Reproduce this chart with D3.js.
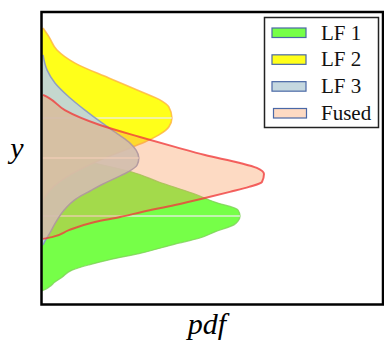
<!DOCTYPE html>
<html>
<head>
<meta charset="utf-8">
<script src="https://cdn.jsdelivr.net/npm/d3@7"></script>
<style>
  html, body { margin: 0; padding: 0; background: #fff; }
  svg { display: block; }
</style>
</head>
<body>
<svg id="chart" width="384" height="342"></svg>
<script>
// Series names, in legend order
const seriesNames = ["LF 1", "LF 2", "LF 3", "Fused"];

// Density outlines for each series: [y, pdf] pairs (top to bottom)
const lf1 = [
  [5.27, 0.003], [5.10, 0.053], [4.86, 0.141], [4.52, 0.264], [4.18, 0.343],
  [3.80, 0.440], [3.49, 0.507], [3.22, 0.575], [3.01, 0.581], [2.84, 0.575],
  [2.71, 0.563], [2.47, 0.507], [2.26, 0.463], [2.05, 0.390], [1.75, 0.293],
  [1.51, 0.196], [1.34, 0.138], [1.16, 0.088], [0.92, 0.059], [0.75, 0.038],
  [0.58, 0.021], [0.48, 0.006], [0.45, 0.000]
];
const lf2 = [
  [9.45, 0.003], [9.14, 0.021], [8.70, 0.044], [8.25, 0.097], [7.74, 0.196],
  [7.26, 0.293], [6.99, 0.346], [6.75, 0.372], [6.37, 0.381], [6.06, 0.372],
  [5.79, 0.343], [5.55, 0.302], [5.41, 0.273], [4.93, 0.170], [4.42, 0.082],
  [3.90, 0.023], [3.56, 0.003]
];
const lf3 = [
  [8.53, 0.003], [8.01, 0.015], [7.57, 0.038], [7.09, 0.079], [6.64, 0.126],
  [6.20, 0.176], [5.79, 0.226], [5.51, 0.258], [5.27, 0.276], [5.00, 0.284],
  [4.76, 0.279], [4.52, 0.252], [4.32, 0.217], [4.11, 0.179], [3.87, 0.141],
  [3.60, 0.100], [3.22, 0.065], [2.81, 0.041], [2.43, 0.023], [2.16, 0.009],
  [2.02, 0.003]
];
const fused = [
  [7.16, 0.003], [7.05, 0.021], [6.64, 0.067], [6.13, 0.170], [5.72, 0.287],
  [5.38, 0.390], [5.10, 0.478], [4.83, 0.581], [4.66, 0.630], [4.45, 0.651],
  [4.18, 0.645], [4.01, 0.607], [3.84, 0.551], [3.63, 0.478], [3.39, 0.390],
  [3.15, 0.293], [2.98, 0.229], [2.81, 0.155], [2.53, 0.079], [2.29, 0.029],
  [2.23, 0.003]
];

// Styles per series
const fills   = ["#76ff48", "#ffff1a", "#bfd4dd", "#f99554"];
const fillOp  = [1, 1, 0.92, 0.35];
const strokes = ["#7fcf5a", "#ffb340", "#8797c6", "#f03c3c"];
const strokeW = [1.2, 1.6, 1.5, 2];
const strokeOp= [0.8, 0.8, 0.9, 0.8];
const swatchFills = ["#76ff48", "#ffff1a", "#c5d8e0", "#fddac3"];
// Which series carry a mode line
const showMode = [true, true, true, false];

const allSeries = [lf1, lf2, lf3, fused];

const svg = d3.select("#chart");
const frame = { left: 41.5, top: 12, right: 383, bottom: 304.5 };

const y = d3.scaleLinear().domain([0, 10]).range([304, 12]);
const x = d3.scaleLinear().domain([0, 1]).range([42, 383]);

svg.append("clipPath").attr("id", "plotclip")
  .append("rect")
  .attr("x", frame.left).attr("y", frame.top)
  .attr("width", frame.right - frame.left)
  .attr("height", frame.bottom - frame.top);

const plot = svg.append("g").attr("clip-path", "url(#plotclip)");

const area = d3.area()
  .curve(d3.curveMonotoneY)
  .y(d => y(d[0]))
  .x0(x(0))
  .x1(d => x(d[1]));

const outline = d3.line()
  .curve(d3.curveMonotoneY)
  .y(d => y(d[0]))
  .x(d => x(d[1]));

allSeries.forEach((data, i) => {
  const sorted = data.slice().sort((a, b) => a[0] - b[0]);
  plot.append("path")
    .datum(sorted)
    .attr("d", area)
    .attr("fill", fills[i])
    .attr("fill-opacity", fillOp[i]);
  plot.append("path")
    .datum(sorted)
    .attr("d", outline)
    .attr("fill", "none")
    .attr("stroke", strokes[i])
    .attr("stroke-width", strokeW[i])
    .attr("stroke-opacity", strokeOp[i])
    .attr("stroke-linejoin", "round");
  if (showMode[i]) {
    const peak = d3.greatest(data, d => d[1]);
    plot.append("line")
      .attr("x1", x(0)).attr("x2", x(peak[1]))
      .attr("y1", y(peak[0])).attr("y2", y(peak[0]))
      .attr("stroke", "#ececec")
      .attr("stroke-opacity", 0.85)
      .attr("stroke-width", 1.5);
  }
});

// Axes frame
svg.append("rect")
  .attr("x", frame.left).attr("y", frame.top)
  .attr("width", frame.right - frame.left)
  .attr("height", frame.bottom - frame.top)
  .attr("fill", "none")
  .attr("stroke", "#000")
  .attr("stroke-width", 2.5);

// Axis labels
svg.append("text")
  .attr("x", 17).attr("y", 158)
  .attr("text-anchor", "middle")
  .attr("font-family", "Liberation Serif, Times New Roman, serif")
  .attr("font-style", "italic")
  .attr("font-size", 30)
  .text("y");

svg.append("text")
  .attr("x", 207).attr("y", 334)
  .attr("text-anchor", "middle")
  .attr("font-family", "Liberation Serif, Times New Roman, serif")
  .attr("font-style", "italic")
  .attr("font-size", 30)
  .text("pdf");

// Legend
const legend = svg.append("g");
legend.append("rect")
  .attr("x", 264.5).attr("y", 17.5)
  .attr("width", 114).attr("height", 110)
  .attr("fill", "#fff")
  .attr("stroke", "#222")
  .attr("stroke-width", 1.5);

const rowY = d3.scalePoint().domain(seriesNames).range([39.5, 120]);

seriesNames.forEach((name, i) => {
  const base = rowY(name);
  legend.append("rect")
    .attr("x", i === 3 ? 273.5 : 272)
    .attr("y", base - 11.5)
    .attr("width", i === 3 ? 33 : 34)
    .attr("height", 9.5)
    .attr("fill", swatchFills[i])
    .attr("stroke", "#4a68a6")
    .attr("stroke-width", 1.2);
  legend.append("text")
    .attr("x", 321).attr("y", base)
    .attr("font-family", "Liberation Serif, Times New Roman, serif")
    .attr("font-size", 21)
    .attr("fill", "#111")
    .text(name);
});
</script>
</body>
</html>
